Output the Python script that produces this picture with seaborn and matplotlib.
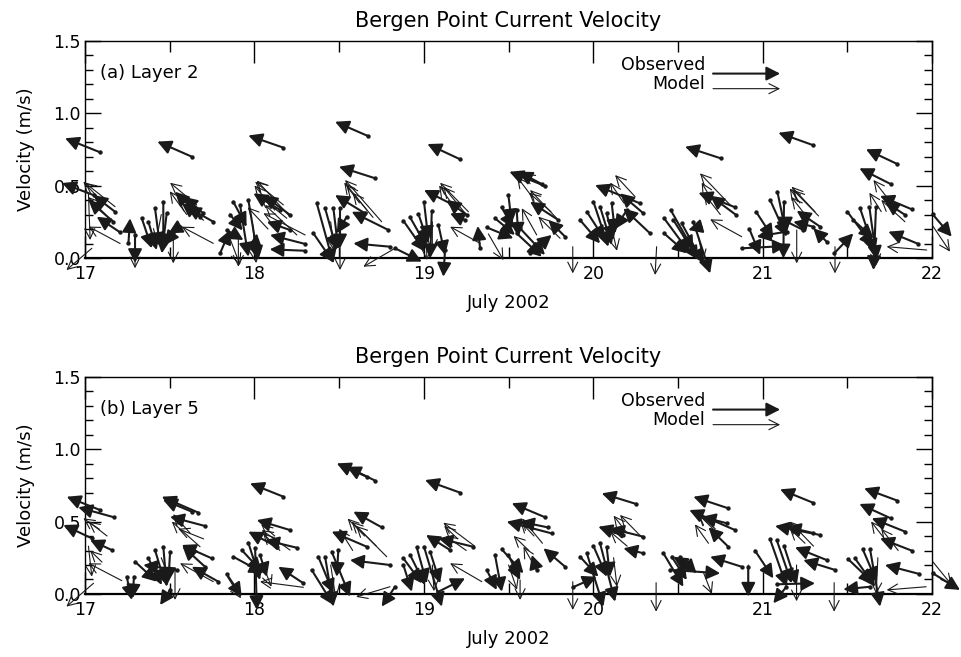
import numpy as np
import pandas as pd
import matplotlib
matplotlib.use('Agg')
import matplotlib.pyplot as plt
import seaborn as sns

# %%
# stick vectors: (tail day, tail m/s, head day, head m/s)
l2_obs = [
    (17.089, 0.729, 16.882, 0.826), (17.05, 0.434, 16.864, 0.517), (17.177, 0.319, 17.049, 0.434),
    (17.207, 0.177, 17.069, 0.285), (17.167, 0.25, 17.02, 0.40),
    (17.630, 0.699, 17.427, 0.803), (17.256, 0.101, 17.266, 0.274), (17.295, 0.159, 17.295, -0.034),
    (17.335, 0.274, 17.394, 0.067), (17.374, 0.25, 17.423, 0.055), (17.413, 0.343, 17.443, 0.078),
    (17.462, 0.388, 17.462, 0.067), (17.482, 0.308, 17.453, 0.032), (17.521, 0.17, 17.472, 0.09),
    (17.561, 0.216, 17.492, 0.17), (17.63, 0.343, 17.531, 0.457), (17.679, 0.285, 17.571, 0.377),
    (17.757, 0.25, 17.6, 0.354), (17.698, 0.308, 17.58, 0.423),
    (18.171, 0.761, 17.964, 0.845), (18.21, 0.297, 18.053, 0.434), (18.151, 0.331, 17.994, 0.446),
    (18.21, 0.193, 18.073, 0.25), (18.299, 0.097, 18.092, 0.159), (18.299, 0.05, 18.09, 0.06),
    (17.875, 0.388, 17.954, 0.216), (17.915, 0.366, 17.964, 0.009), (17.964, 0.4, 18.023, -0.014),
    (17.856, 0.30, 17.93, 0.19), (17.797, 0.032, 17.856, 0.193), (17.836, 0.193, 17.935, 0.124),
    (18.004, 0.078, 18.014, 0.17),
    (18.671, 0.841, 18.476, 0.94), (18.712, 0.55, 18.499, 0.63), (18.653, 0.308, 18.476, 0.434),
    (18.791, 0.193, 18.574, 0.319), (18.8, 0.078, 18.584, 0.101), (18.368, 0.377, 18.466, -0.037),
    (18.417, 0.343, 18.486, 0.055), (18.466, 0.343, 18.495, 0.06), (18.505, 0.343, 18.505, 0.067),
    (18.348, 0.17, 18.466, -0.03), (18.545, 0.285, 18.486, 0.17),
    (19.214, 0.681, 19.021, 0.786), (19.155, 0.377, 19.001, 0.469), (19.253, 0.297, 19.135, 0.4),
    (19.243, 0.262, 19.155, 0.308), (19.332, 0.067, 19.318, 0.221), (18.879, 0.257, 19.007, 0.044),
    (18.919, 0.28, 19.017, 0.078), (18.968, 0.303, 19.027, 0.101), (19.001, 0.386, 19.027, 0.124),
    (19.047, 0.326, 19.037, -0.002), (19.086, 0.228, 19.125, 0.021), (18.83, 0.067, 18.988, -0.025),
    (19.125, 0.055, 19.115, -0.129),
    (19.716, 0.497, 19.505, 0.595), (19.696, 0.51, 19.558, 0.595), (19.794, 0.262, 19.627, 0.388),
    (19.834, 0.147, 19.735, 0.262), (19.627, 0.032, 19.755, 0.159), (19.548, 0.17, 19.696, 0.009),
    (19.499, 0.434, 19.519, 0.239), (19.459, 0.35, 19.528, 0.205), (19.42, 0.274, 19.538, 0.159),
    (19.548, 0.331, 19.558, 0.147), (19.371, 0.211, 19.528, 0.136), (19.568, 0.205, 19.715, 0.021),
    (20.276, 0.377, 20.011, 0.503), (20.296, 0.308, 20.158, 0.446), (20.335, 0.17, 20.178, 0.343),
    (19.922, 0.262, 20.04, 0.101), (19.962, 0.319, 20.07, 0.124), (20.001, 0.388, 20.089, 0.078),
    (20.04, 0.354, 20.109, 0.09), (20.079, 0.308, 20.119, 0.124), (20.109, 0.377, 20.129, 0.17),
    (20.198, 0.331, 20.129, 0.2),
    (20.754, 0.687, 20.542, 0.768), (20.837, 0.35, 20.621, 0.45), (20.843, 0.297, 20.69, 0.43),
    (20.457, 0.331, 20.591, 0.055), (20.418, 0.274, 20.571, 0.032), (20.473, 0.262, 20.621, -0.014),
    (20.522, 0.239, 20.65, -0.037), (20.418, 0.17, 20.552, 0.032), (20.591, 0.25, 20.69, -0.106),
    (20.63, 0.216, 20.561, 0.193),
    (21.296, 0.779, 21.093, 0.864), (21.339, 0.216, 21.201, 0.326), (21.24, 0.193, 21.083, 0.285),
    (21.378, 0.112, 21.299, 0.205), (21.299, 0.216, 21.181, 0.25), (21.142, 0.182, 20.965, 0.147),
    (20.876, 0.067, 21.142, 0.083), (20.961, 0.319, 21.063, 0.136), (21.044, 0.4, 21.142, 0.147),
    (21.087, 0.457, 21.14, 0.16), (21.126, 0.388, 21.122, -0.002), (20.922, 0.198, 20.985, 0.021),
    (21.795, 0.648, 21.61, 0.75), (21.756, 0.51, 21.571, 0.619), (21.88, 0.336, 21.693, 0.428),
    (21.841, 0.297, 21.722, 0.388), (21.919, 0.097, 21.742, 0.182), (21.422, 0.032, 21.535, 0.17),
    (21.5, 0.319, 21.654, 0.078), (21.575, 0.343, 21.664, 0.032), (21.63, 0.35, 21.673, -0.014),
    (21.669, 0.35, 21.654, -0.083), (21.535, 0.262, 21.654, 0.136), (22.004, 0.301, 22.116, 0.147),
]
l2_mod = [
    (17.04, 0.067, 16.89, -0.083), (17.207, 0.1, 17.02, 0.217), (17.177, 0.354, 17.0, 0.519),
    (17.02, 0.446, 17.03, 0.124), (17.108, 0.377, 16.99, 0.527), (17.659, 0.366, 17.502, 0.519),
    (17.757, 0.101, 17.571, 0.216), (17.521, 0.17, 17.521, -0.037), (17.295, 0.17, 17.295, -0.071),
    (17.836, 0.193, 17.915, -0.048), (18.171, 0.366, 18.004, 0.526), (18.191, 0.274, 18.033, 0.423),
    (18.299, 0.159, 18.053, 0.308), (18.21, 0.285, 18.014, 0.534), (18.25, 0.159, 18.063, 0.366),
    (17.905, 0.17, 17.905, -0.06), (17.99, 0.23, 18.01, -0.035), (18.751, 0.25, 18.535, 0.538),
    (18.663, 0.331, 18.545, 0.503), (18.83, 0.067, 18.643, -0.06), (18.505, 0.193, 18.505, -0.083),
    (19.263, 0.319, 19.096, 0.519), (19.25, 0.3, 19.115, 0.492), (19.332, 0.101, 19.155, 0.216),
    (19.017, 0.193, 19.017, -0.014), (19.706, 0.492, 19.588, 0.584), (19.784, 0.274, 19.627, 0.469),
    (19.666, 0.159, 19.578, 0.343), (19.804, 0.136, 19.676, 0.285), (19.381, 0.166, 19.47, -0.014),
    (19.879, 0.078, 19.879, -0.106), (20.247, 0.423, 20.129, 0.572), (20.374, 0.078, 20.365, -0.117),
    (20.808, 0.366, 20.63, 0.584), (20.876, 0.147, 20.69, 0.267), (21.309, 0.319, 21.171, 0.492),
    (21.33, 0.29, 21.18, 0.47), (21.427, 0.078, 21.427, -0.106), (21.201, 0.193, 21.201, -0.037),
    (21.761, 0.377, 21.654, 0.538), (21.84, 0.25, 21.70, 0.40), (21.968, 0.055, 21.732, 0.078),
    (22.004, 0.221, 22.106, 0.044),
    (17.12, 0.30, 17.02, 0.42), (17.60, 0.30, 17.50, 0.46), (17.70, 0.26, 17.55, 0.40),
    (17.45, 0.30, 17.42, 0.12), (18.12, 0.33, 18.00, 0.50), (18.08, 0.20, 17.96, 0.35),
    (18.62, 0.38, 18.53, 0.52), (18.70, 0.28, 18.58, 0.45), (18.45, 0.25, 18.47, 0.05),
    (19.18, 0.35, 19.09, 0.50), (19.05, 0.25, 19.05, 0.05), (19.64, 0.42, 19.55, 0.56),
    (19.75, 0.32, 19.62, 0.45), (20.18, 0.38, 20.10, 0.52), (20.10, 0.25, 20.14, 0.05),
    (20.70, 0.40, 20.64, 0.52), (20.75, 0.30, 20.65, 0.45), (20.62, 0.15, 20.65, -0.02),
    (21.22, 0.38, 21.16, 0.48), (21.25, 0.30, 21.17, 0.42), (21.70, 0.32, 21.63, 0.45),
    (21.66, 0.20, 21.67, -0.05),
]
l5_obs = [
    (17.089, 0.579, 16.892, 0.671), (17.171, 0.529, 16.96, 0.598), (17.04, 0.384, 16.872, 0.476),
    (17.158, 0.303, 17.03, 0.372), (17.246, 0.119, 17.276, -0.041), (17.289, 0.119, 17.28, -0.03),
    (17.669, 0.561, 17.453, 0.671), (17.63, 0.568, 17.46, 0.65), (17.708, 0.469, 17.502, 0.533),
    (17.748, 0.246, 17.571, 0.338), (17.708, 0.188, 17.575, 0.33), (17.787, 0.085, 17.63, 0.188),
    (17.295, 0.223, 17.423, 0.085), (17.374, 0.246, 17.453, 0.062), (17.413, 0.303, 17.472, 0.074),
    (17.462, 0.326, 17.482, 0.05), (17.502, 0.292, 17.492, 0.085), (17.541, 0.166, 17.344, 0.2),
    (17.502, 0.028, 17.443, -0.076),
    (18.171, 0.671, 17.974, 0.763), (18.21, 0.441, 18.014, 0.51), (18.25, 0.319, 18.063, 0.372),
    (18.289, 0.074, 18.141, 0.188), (18.132, 0.326, 17.964, 0.43), (17.836, 0.138, 17.925, -0.018),
    (17.875, 0.257, 18.053, 0.143), (17.925, 0.303, 18.043, 0.154), (17.964, 0.354, 18.033, 0.097),
    (18.004, 0.315, 18.014, -0.11), (18.033, 0.269, 18.073, 0.119),
    (18.663, 0.809, 18.486, 0.901), (18.712, 0.782, 18.545, 0.878), (18.751, 0.46, 18.584, 0.568),
    (18.663, 0.326, 18.456, 0.43), (18.8, 0.2, 18.564, 0.234), (18.377, 0.257, 18.466, 0.005),
    (18.417, 0.257, 18.466, -0.087), (18.456, 0.292, 18.564, -0.018), (18.495, 0.303, 18.486, 0.119),
    (18.338, 0.166, 18.466, -0.076), (18.83, 0.05, 18.751, -0.087),
    (19.214, 0.699, 19.007, 0.786), (19.155, 0.303, 19.013, 0.407), (19.291, 0.326, 19.086, 0.384),
    (19.086, 0.016, 19.243, 0.108), (18.879, 0.246, 18.988, 0.074), (18.919, 0.269, 19.007, 0.062),
    (18.958, 0.322, 19.017, 0.074), (19.001, 0.326, 19.106, -0.087), (19.037, 0.292, 19.096, 0.074),
    (18.879, 0.2, 18.929, 0.016),
    (19.716, 0.529, 19.519, 0.626), (19.755, 0.418, 19.489, 0.499), (19.73, 0.46, 19.568, 0.499),
    (19.834, 0.188, 19.706, 0.315), (19.666, 0.166, 19.637, 0.269), (19.371, 0.166, 19.43, 0.028),
    (19.42, 0.269, 19.46, 0.016), (19.46, 0.308, 19.588, 0.143), (19.499, 0.269, 19.568, 0.097),
    (20.253, 0.621, 20.05, 0.694), (20.178, 0.407, 20.03, 0.464), (20.296, 0.395, 20.099, 0.453),
    (20.296, 0.281, 20.178, 0.315), (19.922, 0.257, 20.03, 0.119), (19.962, 0.281, 20.06, -0.087),
    (20.001, 0.331, 20.08, 0.119), (20.04, 0.35, 20.129, -0.053), (20.079, 0.326, 20.099, 0.119),
    (19.879, 0.046, 20.02, 0.119),
    (20.797, 0.591, 20.591, 0.671), (20.837, 0.441, 20.567, 0.579), (20.788, 0.488, 20.64, 0.533),
    (20.797, 0.326, 20.68, 0.46), (20.414, 0.281, 20.532, 0.05), (20.463, 0.257, 20.552, 0.097),
    (20.512, 0.257, 20.61, 0.143), (20.453, 0.166, 20.749, 0.143), (20.876, 0.188, 20.69, 0.257),
    (20.55, 0.2, 20.473, 0.257),
    (21.296, 0.63, 21.103, 0.722), (21.339, 0.407, 21.073, 0.469), (21.30, 0.42, 21.142, 0.464),
    (21.378, 0.234, 21.191, 0.322), (21.427, 0.166, 21.24, 0.234), (21.083, 0.067, 21.309, 0.074),
    (20.955, 0.299, 21.063, 0.108), (21.044, 0.377, 21.142, 0.05), (21.083, 0.372, 21.171, 0.074),
    (21.126, 0.331, 21.201, 0.062), (20.915, 0.188, 20.915, -0.018), (21.14, 0.05, 21.063, -0.064),
    (21.795, 0.644, 21.599, 0.729), (21.756, 0.522, 21.571, 0.621), (21.841, 0.43, 21.644, 0.522),
    (21.88, 0.299, 21.693, 0.384), (21.925, 0.138, 21.722, 0.2), (21.506, 0.239, 21.654, 0.074),
    (21.545, 0.246, 21.664, 0.05), (21.591, 0.308, 21.673, 0.085), (21.634, 0.308, 21.693, -0.087),
    (21.634, 0.05, 21.476, 0.032), (22.004, 0.143, 22.165, 0.028),
]
l5_mod = [
    (17.085, 0.446, 16.99, 0.522), (17.05, 0.074, 16.89, -0.087), (17.217, 0.092, 17.02, 0.212),
    (17.02, 0.33, 17.04, 0.12), (17.679, 0.326, 17.512, 0.499), (17.757, 0.085, 17.561, 0.212),
    (17.531, 0.166, 17.531, -0.041), (18.21, 0.303, 18.043, 0.441), (18.289, 0.046, 18.033, 0.085),
    (17.84, 0.12, 17.92, -0.03), (18.781, 0.257, 18.574, 0.499), (18.72, 0.33, 18.60, 0.47),
    (18.8, 0.05, 18.6, -0.02), (19.3, 0.33, 19.115, 0.492), (19.342, 0.085, 19.155, 0.212),
    (19.666, 0.166, 19.588, 0.326), (19.568, 0.097, 19.568, -0.041), (19.70, 0.35, 19.58, 0.52),
    (19.879, 0.085, 19.879, -0.11), (20.296, 0.38, 20.158, 0.545), (20.2, 0.33, 20.1, 0.43),
    (20.371, 0.078, 20.371, -0.122), (20.75, 0.4, 20.62, 0.55), (20.915, 0.2, 20.915, -0.01),
    (21.3, 0.33, 21.16, 0.5), (21.422, 0.078, 21.422, -0.122), (21.2, 0.2, 21.2, -0.05),
    (21.965, 0.05, 21.732, 0.028), (21.80, 0.3, 21.70, 0.45), (22.004, 0.223, 22.116, 0.062),
    (17.13, 0.40, 17.02, 0.50), (17.10, 0.22, 17.03, 0.30), (17.62, 0.42, 17.52, 0.55),
    (17.70, 0.38, 17.55, 0.45), (17.45, 0.25, 17.50, 0.10), (18.12, 0.40, 18.04, 0.48),
    (18.15, 0.30, 18.05, 0.42), (18.05, 0.20, 18.10, 0.05), (18.65, 0.40, 18.55, 0.52),
    (18.58, 0.30, 18.50, 0.45), (18.45, 0.20, 18.48, -0.03), (19.20, 0.38, 19.12, 0.47),
    (19.25, 0.30, 19.13, 0.40), (19.05, 0.20, 19.06, 0.02), (19.65, 0.40, 19.57, 0.50),
    (19.62, 0.30, 19.53, 0.40), (19.50, 0.20, 19.55, 0.03), (20.20, 0.42, 20.12, 0.54),
    (20.12, 0.25, 20.14, 0.05), (20.72, 0.45, 20.62, 0.55), (20.68, 0.35, 20.60, 0.48),
    (20.65, 0.15, 20.70, 0.0), (21.22, 0.42, 21.15, 0.49), (21.25, 0.35, 21.16, 0.45),
    (21.72, 0.38, 21.64, 0.50), (21.68, 0.25, 21.67, 0.0),
]
panel_names = ['(a) Layer 2', '(b) Layer 5']

# %%
sns.set_theme(style='ticks')
plt.rcParams['font.family'] = ['DejaVu Sans']
plt.rcParams.update({'axes.linewidth': 1.0, 'text.color': 'black', 'axes.labelcolor': 'black',
                     'xtick.color': 'black', 'ytick.color': 'black', 'axes.edgecolor': 'black'})

cols = ['t0', 'v0', 't1', 'v1']
panels = [(pd.DataFrame(l2_obs, columns=cols), pd.DataFrame(l2_mod, columns=cols)),
          (pd.DataFrame(l5_obs, columns=cols), pd.DataFrame(l5_mod, columns=cols))]

fig = plt.figure(figsize=(9.61, 6.57), dpi=100)
axes = [fig.add_axes([0.0885, 0.6073, 0.8814, 0.331]),
        fig.add_axes([0.0885, 0.0959, 0.8814, 0.331])]

obs_style = dict(arrowstyle='-|>,head_length=0.55,head_width=0.28', mutation_scale=15,
                 lw=1.5, color='k', shrinkA=0, shrinkB=0)
mod_style = dict(arrowstyle='->,head_length=0.6,head_width=0.3', mutation_scale=12,
                 lw=0.8, color='k', shrinkA=0, shrinkB=0)

for ax, (obs, mod), name in zip(axes, panels, panel_names):
    ax.set_xlim(17, 22)
    ax.set_ylim(0, 1.5)
    for _, r in mod.iterrows():
        ax.annotate('', xy=(r.t1, r.v1), xytext=(r.t0, r.v0), arrowprops=mod_style,
                    annotation_clip=False)
    for _, r in obs.iterrows():
        ax.annotate('', xy=(r.t1, r.v1), xytext=(r.t0, r.v0), arrowprops=obs_style,
                    annotation_clip=False)
    sns.scatterplot(data=obs, x='t0', y='v0', ax=ax, color='k', s=10, linewidth=0,
                    clip_on=False, legend=False)

    ax.set_xticks(range(17, 23))
    ax.set_xticks(np.arange(17.5, 22, 1.0), minor=True)
    ax.set_yticks([0, 0.5, 1.0, 1.5])
    ax.set_yticklabels(['0.0', '0.5', '1.0', '1.5'])
    ax.set_yticks(np.arange(0, 1.51, 0.1), minor=True)
    ax.tick_params(axis='x', which='major', direction='in', length=16, width=1,
                   top=True, bottom=True, labelsize=12.5, pad=5)
    ax.tick_params(axis='x', which='minor', direction='in', length=8, width=1,
                   top=True, bottom=True)
    ax.tick_params(axis='y', which='major', direction='in', length=11.5, width=1,
                   left=True, right=True, labelsize=12.5, pad=3)
    ax.tick_params(axis='y', which='minor', direction='in', length=5.5, width=1,
                   left=True, right=True)
    ax.spines['bottom'].set_linewidth(1.6)
    ax.set_xlabel('July 2002', fontsize=13, labelpad=8)
    ax.set_ylabel('Velocity (m/s)', fontsize=13, labelpad=13)
    ax.set_title('Bergen Point Current Velocity', fontsize=15, pad=10)
    ax.text(0.018, 0.85, name, transform=ax.transAxes, fontsize=13, va='center', ha='left')

    # legend arrows
    ax.annotate('', xy=(21.103, 1.272), xytext=(20.707, 1.272), arrowprops=obs_style)
    ax.annotate('', xy=(21.103, 1.168), xytext=(20.707, 1.168), arrowprops=mod_style)
    ax.text(20.66, 1.295, 'Observed', fontsize=12.5, ha='right', va='baseline')
    ax.text(20.66, 1.165, 'Model', fontsize=12.5, ha='right', va='baseline')

plt.savefig('out.png', dpi=100)
